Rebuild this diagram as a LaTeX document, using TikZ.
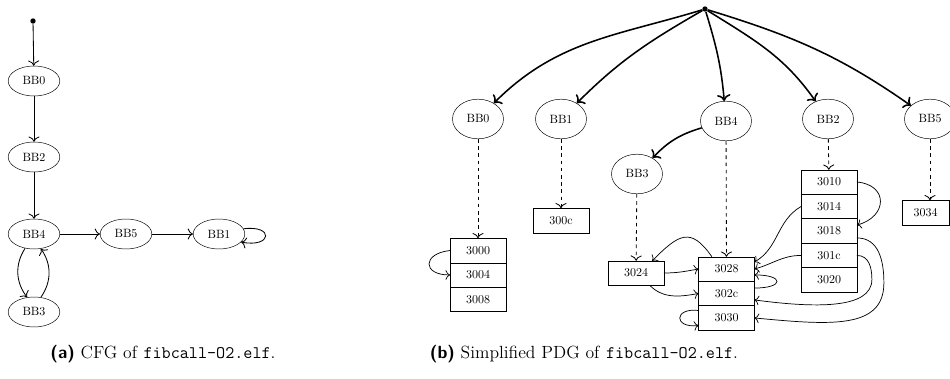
\documentclass[tikz,border=0pt]{standalone}
\usepackage{tikz}
\usetikzlibrary{positioning,shapes,arrows,arrows.meta,calc}

\tikzset{
	bb/.style={draw,ellipse,minimum width=43pt,minimum height=25pt,inner sep=0pt},
	bbr/.style={bb,minimum width=42.5pt,minimum height=33pt},
	cell/.style={draw,rectangle,minimum width=46.5pt,minimum height=20.4pt,inner sep=0pt,outer sep=0pt},
	root/.style={circle,fill,inner sep=0pt,minimum size=4.5pt},
	cf/.style={-{To[scale=1.4]},line width=0.7pt},
	ctrl/.style={-{To[scale=1.2]},line width=1.3pt},
	dep/.style={-{To[scale=1.4]},line width=0.7pt,dashed},
	dd/.style={-{To[scale=1.3]},line width=0.6pt}
}

\begin{document}
\begin{tikzpicture}[x=0.8333pt,y=0.8333pt]
	\useasboundingbox (0,0) rectangle (950,-379);
	% (a) CFG
	\node(s) [root] at (33,-21) {};
	\node(a0) [bb] at (34,-81) {BB0};
	\node(a2) [bb] at (34,-157) {BB2};
	\node(a4) [bb] at (34,-234) {BB4};
	\node(a3) [bb] at (34,-312) {BB3};
	\node(a5) [bb] at (126,-234) {BB5};
	\node(a1) [bb] at (219,-234) {BB1};
	\draw[cf] (s) -- (a0);
	\draw[cf] (a0) -- (a2);
	\draw[cf] (a2) -- (a4);
	\draw[cf] (a4) -- (a5);
	\draw[cf] (a5) -- (a1);
	\draw[cf] (a1.12) .. controls +(31,4) and +(31,-6) .. (a1.-20);
	\draw[cf] (a4.238) to[bend right=35] (a3.115);
	\draw[cf] (a3.65) to[bend right=35] (a4.295);

	% (b) PDG
	\node(r) [root] at (705,-9) {};
	\node(b0) [bbr] at (478,-119) {BB0};
	\node(b1) [bbr] at (561,-119) {BB1};
	\node(b4) [bbr] at (726,-121) {BB4};
	\node(b2) [bbr] at (828,-119) {BB2};
	\node(b5) [bbr] at (930,-119) {BB5};
	\node(b3) [bbr] at (637,-174) {BB3};

	\node(c3000) [cell] at (478,-250.5) {3000};
	\node(c3004) [cell,below=0pt of c3000] {3004};
	\node(c3008) [cell,below=0pt of c3004] {3008};
	\node(c300c) [cell] at (561,-220.5) {300c};
	\node(c3024) [cell] at (636,-273) {3024};
	\node(c3028) [cell] at (726.5,-269) {3028};
	\node(c302c) [cell,below=0pt of c3028] {302c};
	\node(c3030) [cell,below=0pt of c302c] {3030};
	\node(c3010) [cell] at (829,-182) {3010};
	\node(c3014) [cell,below=0pt of c3010] {3014};
	\node(c3018) [cell,below=0pt of c3014] {3018};
	\node(c301c) [cell,below=0pt of c3018] {301c};
	\node(c3020) [cell,below=0pt of c301c] {3020};
	\node(c3034) [cell,minimum width=39pt] at (925.5,-212.5) {3034};

	\draw[ctrl] (r) to[out=197,in=45] (b0);
	\draw[ctrl] (r) to[out=210,in=45] (b1);
	\draw[ctrl] (r) to[out=-73,in=95] (b4);
	\draw[ctrl] (r) to[out=-32,in=125] (b2);
	\draw[ctrl] (r) to[out=-17,in=145] (b5);
	\draw[ctrl] (b4) to[bend right=15] (b3);

	\draw[dep] (b0) -- (c3000);
	\draw[dep] (b1) -- (c300c);
	\draw[dep] (b3) -- (c3024);
	\draw[dep] (b4) -- (c3028);
	\draw[dep] (b2) -- (c3010);
	\draw[dep] (b5.south) -- (b5.south |- c3034.north);

	\draw[dd] (c3000.west) .. controls +(-28,-3) and +(-28,0) .. (c3004.west);
	\draw[dd] (c3024.east) to[out=0,in=190] (c3028.west);
	\draw[dd] (c3024.-42) to[out=-45,in=190] (c302c.west);
	\draw[dd] (c3030.165) .. controls +(-25,3) and +(-25,-3) .. (c3030.195);
	\draw[dd] (c3028.140) to[out=125,in=45,looseness=1.6] (c3024.37);
	\draw[dd] (c302c.11) .. controls +(30,0) and +(30,0) .. (c3028.-12);
	\draw[dd] (c3014.west) to[out=210,in=30] (c3028.14);
	\draw[dd] (c301c.west) to[out=180,in=15] (c3028.east);
	\draw[dd] (c3010.east) to[out=-5,in=15,looseness=1.9] (c3018.12);
	\draw[dd] (c301c.east) .. controls +(12,0) and +(0,12) .. +(15,-24)
		.. controls +(0,-30) and +(60,-8) .. (c302c.-13);
	\draw[dd] (c3018.-14) .. controls +(22,0) and +(0,22) .. +(27,-45)
		.. controls +(0,-47) and +(75,-7) .. (c3030.east);

	% captions
	\node(capa) [anchor=base] at (163,-358) {\fontsize{14.7}{17}\selectfont\textsf{\bfseries (a)} CFG of \texttt{fibcall-O2.elf}.};
	\node(capb) [anchor=base] at (584,-358) {\fontsize{14.7}{17}\selectfont\textsf{\bfseries (b)} Simplified PDG of \texttt{fibcall-O2.elf}.};
\end{tikzpicture}
\end{document}
